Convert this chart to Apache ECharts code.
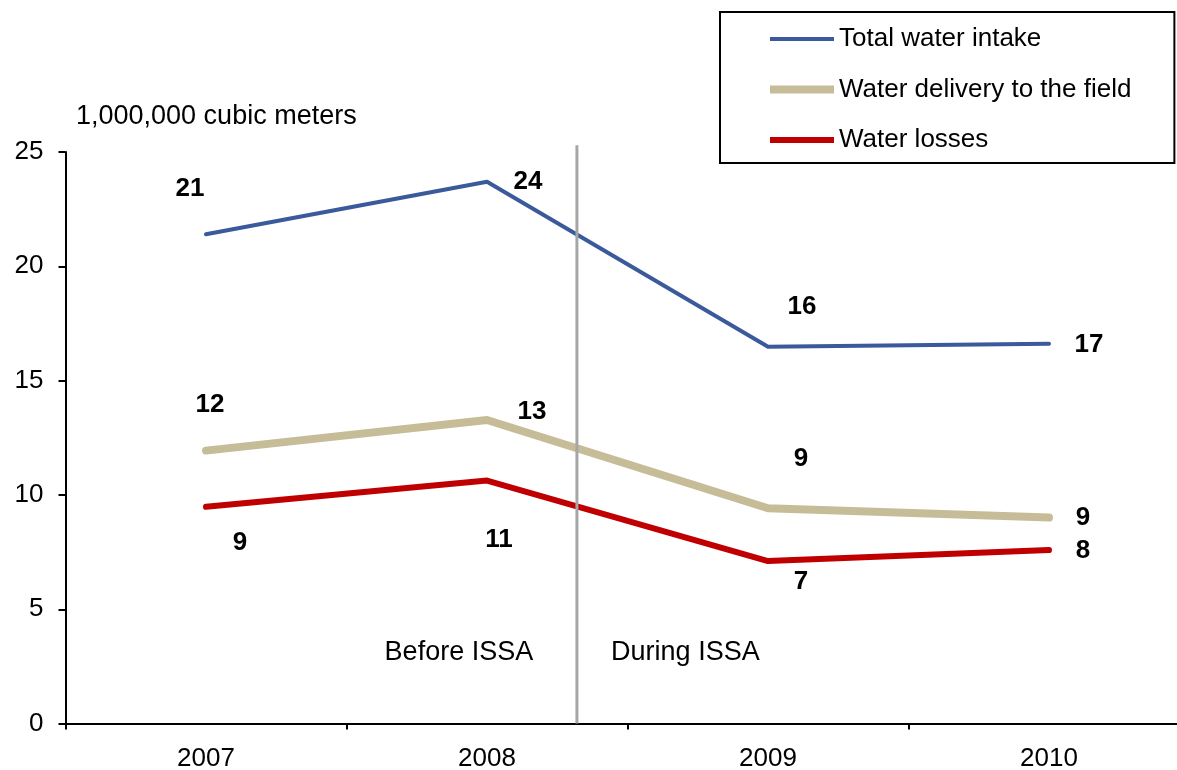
<!DOCTYPE html>
<html>
<head>
<meta charset="utf-8">
<title>Water intake, delivery and losses</title>
<script src="https://cdn.jsdelivr.net/npm/echarts@6/dist/echarts.min.js"></script>
<style>
  html, body { margin: 0; padding: 0; background: #fff; }
  #main { width: 1177px; height: 770px; }
</style>
</head>
<body>
<div id="main"></div>
<script>
// data (1,000,000 cubic meters)
const years = ['2007', '2008', '2009', '2010'];
const totalIntake = [21.40, 23.70, 16.48, 16.61];
const fieldDelivery = [11.94, 13.28, 9.42, 9.01];
const waterLosses = [9.48, 10.63, 7.11, 7.59];
const yMin = 0, yMax = 25, yStep = 5;

// where ISSA starts, in category index units (between 2008 and 2009)
const issaStart = 1.32;
const periodNames = ['Before ISSA', 'During ISSA'];
const periodAt = [0.90, 1.706];
const periodLevel = 3.1;

const FONT = '"Liberation Sans", Arial, sans-serif';

// label offsets in px from each point, per series
const totalOffsets = [[-16, -45], [41, 0], [34, -40], [40, 1]];
const deliveryOffsets = [[4, -46], [45, -8], [33, -49], [34, 0]];
const lossOffsets = [[34, 36], [12, 59], [33, 21], [34, 1]];

function lineSeries(name, values, color, width, offsets) {
  return {
    name: name,
    type: 'line',
    color: color,
    symbol: 'circle',
    symbolSize: 1,
    lineStyle: { width: width, color: color, cap: 'round', join: 'round' },
    label: {
      show: true,
      position: 'inside',
      align: 'center',
      verticalAlign: 'middle',
      color: '#000',
      fontFamily: FONT,
      fontSize: 26,
      fontWeight: 'bold',
      formatter: function (p) { return Math.round(p.value); }
    },
    emphasis: { disabled: true },
    data: values.map(function (v, i) {
      return { value: v, label: { offset: offsets[i] } };
    })
  };
}

const chart = echarts.init(document.getElementById('main'));

chart.setOption({
  animation: false,
  textStyle: { fontFamily: FONT },
  // the plot runs a little past the right edge of the picture
  grid: {
    left: 65.5, width: 1124, top: 152, height: 571.6,
    containLabel: false, outerBoundsMode: 'none'
  },
  legend: {
    orient: 'vertical',
    left: 720,
    top: 12,
    padding: [12, 43, 8, 50],
    itemWidth: 64,
    itemHeight: 30,
    itemGap: 20.5,
    borderColor: '#000',
    borderWidth: 2,
    selectedMode: false,
    textStyle: { color: '#000', fontSize: 26, lineHeight: 30, fontFamily: FONT },
    data: [
      { name: 'Total water intake', icon: 'path://M0,0H64V4H0Z' },
      { name: 'Water delivery to the field', icon: 'path://M0,0H64V8H0Z' },
      { name: 'Water losses', icon: 'path://M0,0H64V6H0Z' }
    ]
  },
  xAxis: {
    type: 'category',
    data: years,
    axisLine: { lineStyle: { color: '#000', width: 2 } },
    axisTick: { show: true, length: 6, lineStyle: { color: '#000', width: 2 } },
    axisLabel: { color: '#000', fontSize: 26, margin: 22, fontFamily: FONT },
    splitLine: { show: false }
  },
  yAxis: {
    type: 'value',
    min: yMin,
    max: yMax,
    interval: yStep,
    axisLine: { show: true, lineStyle: { color: '#000', width: 2 } },
    axisTick: { show: true, length: 7, lineStyle: { color: '#000', width: 2 } },
    axisLabel: { color: '#000', fontSize: 26, margin: 22, fontFamily: FONT },
    splitLine: { show: false }
  },
  series: [
    lineSeries('Total water intake', totalIntake, '#3b5a9b', 4, totalOffsets),
    lineSeries('Water delivery to the field', fieldDelivery, '#c6bd98', 8, deliveryOffsets),
    lineSeries('Water losses', waterLosses, '#c00000', 6, lossOffsets)
  ]
});

// x pixel for a fractional category position
function catX(pos) {
  const i = Math.min(Math.floor(pos), years.length - 2);
  const a = chart.convertToPixel({ xAxisIndex: 0 }, years[i]);
  const b = chart.convertToPixel({ xAxisIndex: 0 }, years[i + 1]);
  return a + (b - a) * (pos - i);
}
function valY(v) {
  return chart.convertToPixel({ yAxisIndex: 0 }, v);
}

const dividerX = catX(issaStart);
const graphics = [
  {
    type: 'line',
    z: 10,
    shape: { x1: dividerX, y1: valY(yMax + 0.3), x2: dividerX, y2: valY(yMin) },
    style: { stroke: '#a6a6a6', lineWidth: 3 }
  },
  {
    type: 'text',
    z: 10,
    style: {
      x: 76, y: 117, text: '1,000,000 cubic meters',
      font: '27px ' + FONT, fill: '#000', align: 'left', verticalAlign: 'middle'
    }
  }
];
periodNames.forEach(function (name, i) {
  graphics.push({
    type: 'text',
    z: 10,
    style: {
      x: catX(periodAt[i]), y: valY(periodLevel), text: name,
      font: '27px ' + FONT, fill: '#000', align: 'center', verticalAlign: 'middle'
    }
  });
});
chart.setOption({ graphic: graphics });
</script>
</body>
</html>
